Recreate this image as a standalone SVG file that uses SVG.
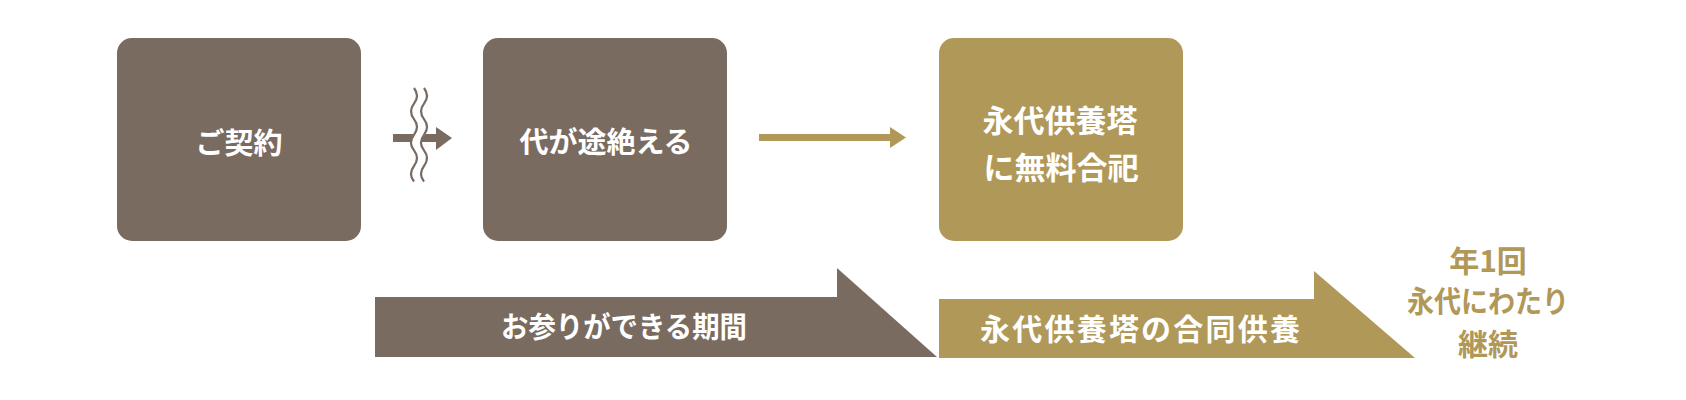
<svg xmlns="http://www.w3.org/2000/svg" width="1686" height="400" viewBox="0 0 1686 400">
<style>
.brown{fill:#7A6B61}
.gold{fill:#B09858}
.t{font-family:"Noto Sans CJK JP","Noto Sans",sans-serif;font-weight:bold;dominant-baseline:central;text-anchor:middle}
.w{fill:#FFFFFF}
.g{fill:#B09858}
</style>
<rect width="1686" height="400" fill="#FFFFFF"/>
<g id="node-contract">
<rect class="brown" x="117" y="38" width="244" height="203" rx="15"/>
<text class="t w" x="239" y="141" font-size="29">ご契約</text>
</g>
<g id="node-end">
<rect class="brown" x="483" y="38" width="244" height="203" rx="15"/>
<text class="t w" x="606" y="140" font-size="29">代が途絶える</text>
</g>
<g id="node-tower">
<rect class="gold" x="939" y="38" width="244" height="203" rx="15"/>
<text class="t w" x="1060" y="118" font-size="31">永代供養塔</text>
<text class="t w" x="1061" y="165" font-size="31">に無料合祀</text>
</g>
<g id="connectors">
<g id="conn-broken">
<rect class="brown" x="393" y="134" width="44" height="8"/>
<polygon class="brown" points="436,127 452,138 436,150"/>
<path d="M419,88 q6,7.8 0,15.6 t0,15.6 t0,15.6 t0,15.6 t0,15.6 t0,15.6" fill="none" stroke="#FFFFFF" stroke-width="10"/>
<path d="M414,88 q6,7.8 0,15.6 t0,15.6 t0,15.6 t0,15.6 t0,15.6 t0,15.6" fill="none" stroke="#7A6B61" stroke-width="2.2"/>
<path d="M424,88 q6,7.8 0,15.6 t0,15.6 t0,15.6 t0,15.6 t0,15.6 t0,15.6" fill="none" stroke="#7A6B61" stroke-width="2.2"/>
</g>
<g id="conn-gold">
<rect class="gold" x="759" y="134" width="132" height="7"/>
<polygon class="gold" points="890,127 906,137.5 890,148"/>
</g>
</g>
<g id="band-visit">
<polygon class="brown" points="375,297 837,297 837,268 937,357 375,357"/>
<text class="t w" x="624" y="325" font-size="29" textLength="246" lengthAdjust="spacingAndGlyphs">お参りができる期間</text>
</g>
<g id="band-memorial">
<polygon class="gold" points="939,299 1314,299 1314,271 1415,358 939,358"/>
<text class="t w" x="1140" y="327" font-size="30" textLength="320">永代供養塔の合同供養</text>
</g>
<g id="note">
<text class="t g" x="1488" y="259" font-size="30">年1回</text>
<text class="t g" x="1488" y="299" font-size="30" textLength="162" lengthAdjust="spacingAndGlyphs">永代にわたり</text>
<text class="t g" x="1488" y="342" font-size="30">継続</text>
</g>
</svg>
